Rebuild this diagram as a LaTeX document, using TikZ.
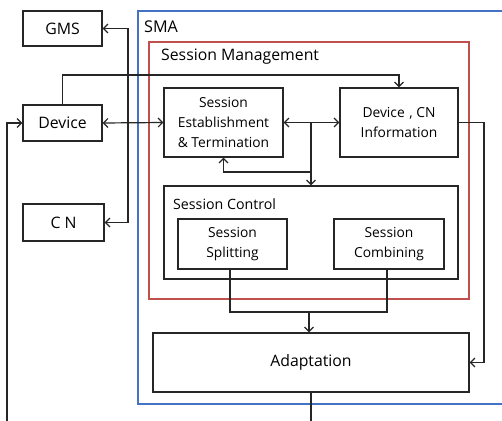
\documentclass[tikz,border=0pt]{standalone}
\usepackage{fontspec}
\setmainfont{Open Sans}
\usetikzlibrary{arrows.meta}
\definecolor{smablue}{RGB}{68,114,196}
\definecolor{smred}{RGB}{192,80,77}
\tikzset{
  tip/.tip={Straight Barb[length=4.5pt,width=9pt,line width=1.2pt]},
  box/.style={draw=black!85, line width=1.2pt, fill=white, inner sep=2pt, align=center,
              font=\fontsize{13.8}{20}\selectfont},
  bigbox/.style={box, font=\fontsize{15.8}{20}\selectfont},
  link/.style={draw=black!85, line width=1.2pt, -tip},
  biglink/.style={link, tip-tip},
  plain/.style={draw=black!85, line width=1.2pt},
  title/.style={anchor=west, inner sep=0pt},
}
\begin{document}
\begin{tikzpicture}[x=1pt,y=-1pt]
\useasboundingbox (0,0) rectangle (502,420);
\clip (0,0) rectangle (502,420);

% container frames
\draw[smablue, line width=1.5pt] (138,11) rectangle (515,404);
\node[title, font=\fontsize{16.2}{20}\selectfont] (smalabel) at (144,27) {SMA};
\draw[smred, line width=1.5pt] (149,42) rectangle (469,299);
\node[title, font=\fontsize{15.8}{20}\selectfont] (smlabel) at (161,57) {Session Management};

% outside entities
\node[bigbox, minimum width=79pt, minimum height=35pt] (gms) at (62.5,28.5) {GMS};
\node[bigbox, minimum width=79pt, minimum height=36pt] (dev) at (62.5,123) {Device};
\node[bigbox, minimum width=81pt, minimum height=37pt] (cn) at (63.5,222.5) {C N};

% session management blocks
\node[box, minimum width=119pt, minimum height=69pt] (se) at (223.5,122.5)
  {Session\\Establishment\\\& Termination};
\node[box, minimum width=118pt, minimum height=69pt] (dcn) at (399,122.5)
  {Device\,\,, CN\\Information};

\node[draw=black!85, line width=1.2pt, minimum width=294pt, minimum height=93pt, inner sep=0pt]
  (sc) at (311,232.5) {};
\node[title, font=\fontsize{14.2}{20}\selectfont] (sclabel) at (173,204) {Session Control};
\node[box, minimum width=109pt, minimum height=50pt] (split) at (232.5,244) {Session\\Splitting};
\node[box, minimum width=110pt, minimum height=50pt] (comb) at (389,244) {Session\\Combining};

\node[bigbox, minimum width=316pt, minimum height=59pt] (adapt) at (311,362.5) {Adaptation};

% connectors
\coordinate (gj) at (128,123);
\draw[biglink] (dev.east) -- (se.west);
\draw[biglink] (gms.east) -| (gj) |- (cn.east);
\draw[link] (dev.north) |- (120,75) -| (dcn.north);

\coordinate (j1) at (311,122.5);
\coordinate (j1b) at (311,172);
\draw[biglink] (se.east) -- (dcn.west);
\draw[link] (j1) -- (j1 |- sc.north);
\draw[link] (j1b) -| (se.south);

\draw[link] (dcn.east) -- (484,122.5) |- (adapt.east);

\coordinate (j2) at (309,312);
\draw[plain] ([xshift=-2.5pt]split.south) |- (j2);
\draw[plain] ([xshift=-2pt]comb.south) |- (j2);
\draw[link] (j2) -- (j2 |- adapt.north);

\coordinate (loopb) at (7,440);
\draw[link] (adapt.south) |- (loopb) |- (dev.west);
\end{tikzpicture}
\end{document}
